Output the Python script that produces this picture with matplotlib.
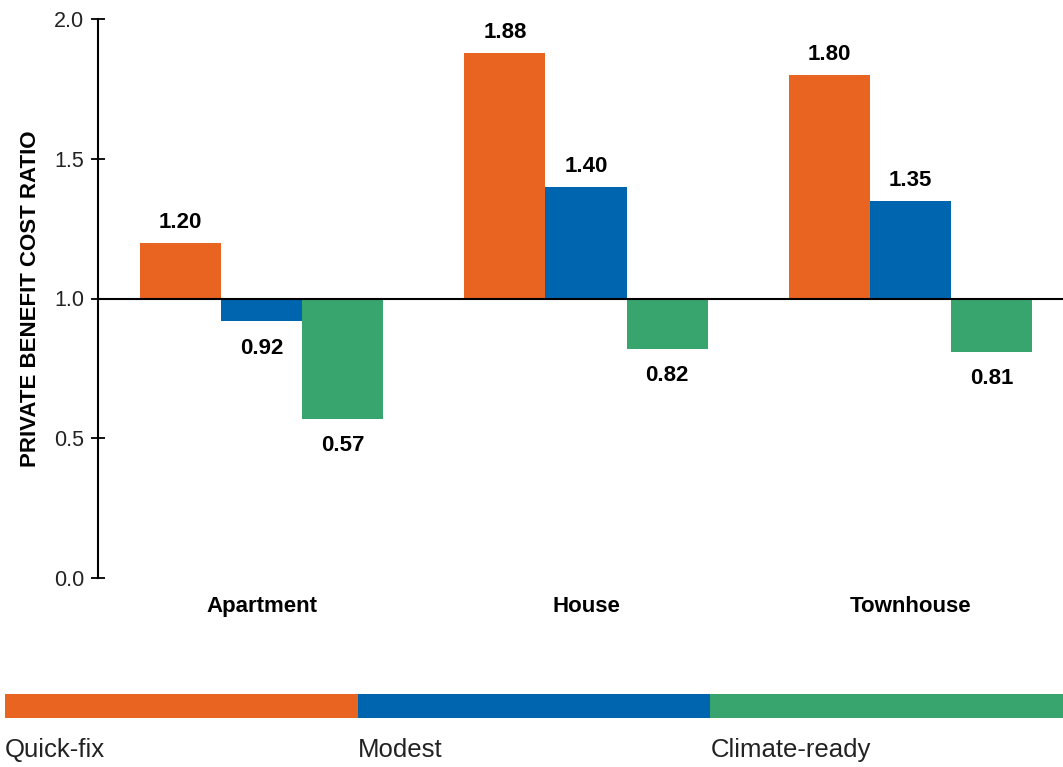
import matplotlib
matplotlib.use("Agg")
import matplotlib.pyplot as plt
import numpy as np

plt.rcParams['font.family'] = ['Liberation Sans', 'DejaVu Sans']

categories = ["Apartment", "House", "Townhouse"]
series_names = ["Quick-fix", "Modest", "Climate-ready"]
quick_fix = [1.20, 1.88, 1.80]
modest = [0.92, 1.40, 1.35]
climate_ready = [0.57, 0.82, 0.81]
colors = ["#E96421", "#0065AF", "#38A56E"]
y_ticks = [0.0, 0.5, 1.0, 1.5, 2.0]
baseline = 1.0

W, H = 1063, 767
fig = plt.figure(figsize=(W / 100, H / 100), dpi=100)
ax = fig.add_axes([98 / W, (H - 578) / H, (W - 98) / W, (578 - 19) / H])

x = np.arange(len(categories))
width = 0.25
series = [quick_fix, modest, climate_ready]
for i, (vals, col) in enumerate(zip(series, colors)):
    vals = np.array(vals)
    xs = x + (i - 1) * width
    ax.bar(xs, vals - baseline, bottom=baseline, width=width, color=col, linewidth=0)
    for xi, v in zip(xs, vals):
        if v >= baseline:
            ax.annotate(f"{v:.2f}", (xi, v), xytext=(0, 7), textcoords="offset points",
                        ha="center", va="bottom", fontsize=16, fontweight="bold")
        else:
            ax.annotate(f"{v:.2f}", (xi, v), xytext=(0, -12), textcoords="offset points",
                        ha="center", va="top", fontsize=16, fontweight="bold")

ax.axhline(baseline, color="black", linewidth=1.5, zorder=3)
ax.set_ylim(0, 2.0)
ax.set_xlim(-0.504, 2.47)
ax.set_yticks(y_ticks)
ax.set_yticklabels([f"{t:.1f}" for t in y_ticks], fontsize=15.5, color="#222222")
ax.set_xticks(x)
ax.set_xticklabels(categories, fontsize=16, fontweight="bold")
ax.tick_params(axis="x", length=0, pad=13)
ax.tick_params(axis="y", length=10, width=1.3, direction="inout", pad=5)
for s in ["top", "right", "bottom"]:
    ax.spines[s].set_visible(False)
ax.spines["left"].set_linewidth(1.5)
ax.set_ylabel("PRIVATE BENEFIT COST RATIO", fontsize=16, fontweight="bold", labelpad=9)

# Legend strip
lax = fig.add_axes([5 / W, (H - 718) / H, (W - 5) / W, 24 / H])
n = len(series_names)
lax.barh([0] * n, [1 / n] * n, left=[i / n for i in range(n)], height=1, color=colors, linewidth=0)
lax.set_xlim(0, 1)
lax.set_ylim(-0.5, 0.5)
lax.axis("off")
for i, name in enumerate(series_names):
    fig.text((5 + i * (W - 5) / n) / W, (H - 750) / H, name, fontsize=18.5, ha="left", va="center",
             color="#222222")

fig.savefig("out.png", dpi=100)
